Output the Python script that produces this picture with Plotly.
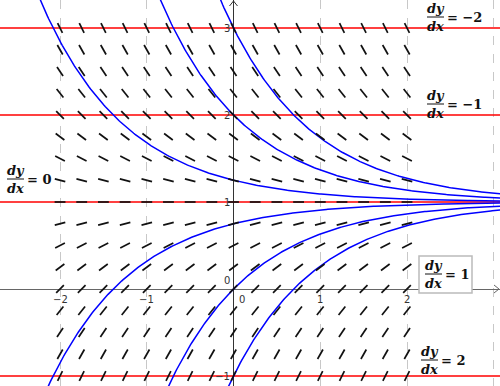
import numpy as np
import plotly.graph_objects as go

# ---- data ----
grid_x = [-2, -1.75, -1.5, -1.25, -1, -0.75, -0.5, -0.25, 0, 0.25, 0.5, 0.75, 1, 1.25, 1.5, 1.75, 2]
grid_y = [-1, -0.75, -0.5, -0.25, 0, 0.25, 0.5, 0.75, 1, 1.25, 1.5, 1.75, 2, 2.25, 2.5, 2.75, 3]
curve_C = [2, 1, 0.25, -0.25, -1, -2]          # y = 1 + C e^{-x}
iso_y = [3, 2, 1, 0, -1]                         # isoclines, slope = 1 - y
iso_drawn = [3, 2, 1, -1]                        # red lines shown
x_ticks = [-2, -1, 1, 2]
y_ticks = [3, 2, 1, -1]

W, H = 500, 386
XR = [-2.692, 3.072]
YR = [-1.115, 3.322]

def slope(y):
    return 1 - y

fig = go.Figure()

# red isoclines
for yv in iso_drawn:
    fig.add_trace(go.Scatter(x=[XR[0] - 1, XR[1] + 1], y=[yv, yv], mode="lines",
                             line=dict(color="#ff0000", width=1.3), hoverinfo="skip", showlegend=False))

# blue solution curves
xs = np.linspace(-3, 3.2, 400)
for C in curve_C:
    fig.add_trace(go.Scatter(x=xs, y=1 + C * np.exp(-xs), mode="lines",
                             line=dict(color="#0000ff", width=1.5), hoverinfo="skip", showlegend=False))

# slope field segments (fixed length)
half = 0.0625
sx, sy = [], []
for yv in grid_y:
    m = slope(yv)
    d = np.hypot(1, m)
    dx, dy = half / d, half * m / d
    for xv in grid_x:
        sx += [xv - dx, xv + dx, None]
        sy += [yv - dy, yv + dy, None]
fig.add_trace(go.Scatter(x=sx, y=sy, mode="lines", line=dict(color="#111111", width=1.7),
                         hoverinfo="skip", showlegend=False))

def px2paper(px, py):
    return px / W, 1 - py / H

shapes = []
annotations = []

# box around dy/dx = 1
bx0, by0 = px2paper(419, 256)
bx1, by1 = px2paper(472, 293)
shapes.append(dict(type="rect", xref="paper", yref="paper", x0=bx0, y0=by1, x1=bx1, y1=by0,
                   line=dict(color="#bbbbbb", width=1.5), fillcolor="white", layer="above"))

# fraction labels: (bar left px, bar y px, slope value)
label_pos = {-2: (427, 17), -1: (427, 104), 0: (7, 179), 1: (425, 274), 2: (421, 360)}
ffont = dict(family="DejaVu Serif", size=13, color="#111")
for yv in iso_y:
    s = slope(yv)
    bl, byp = label_pos[s]
    bw = 17
    x0, yb = px2paper(bl, byp)
    x1, _ = px2paper(bl + bw, byp)
    shapes.append(dict(type="line", xref="paper", yref="paper", x0=x0, x1=x1, y0=yb, y1=yb,
                       line=dict(color="#111", width=1), layer="above"))
    xc, _ = px2paper(bl + bw / 2, byp)
    annotations.append(dict(xref="paper", yref="paper", x=xc, y=yb, text="<b><i>dy</i></b>",
                            showarrow=False, xanchor="center", yanchor="bottom", font=ffont,
                            borderpad=0, yshift=0))
    annotations.append(dict(xref="paper", yref="paper", x=xc, y=yb, text="<b><i>dx</i></b>",
                            showarrow=False, xanchor="center", yanchor="top", font=ffont,
                            borderpad=0, yshift=-1))
    sign = "\u2212" if s < 0 else ""
    xe, _ = px2paper(bl + bw + 1, byp)
    annotations.append(dict(xref="paper", yref="paper", x=xe, y=yb, text="<b>= " + sign + str(abs(s)) + "</b>",
                            showarrow=False, xanchor="left", yanchor="middle", font=ffont))

# tick labels
tfont = dict(family="DejaVu Sans", size=10, color="#333")
for t in x_ticks:
    lab = ("\u2212" + str(abs(t))) if t < 0 else str(t)
    annotations.append(dict(x=t, y=0, text=lab, showarrow=False, xanchor="center", yanchor="top",
                            yshift=-3, font=tfont))
for t in y_ticks:
    lab = ("\u2212" + str(abs(t))) if t < 0 else str(t)
    annotations.append(dict(x=0, y=t, text=lab, showarrow=False, xanchor="right", yanchor="middle",
                            xshift=-2, font=tfont))
annotations.append(dict(x=0, y=0, text="0", showarrow=False, xanchor="right", yanchor="bottom",
                        xshift=-2, yshift=1, font=tfont))
annotations.append(dict(x=0, y=0, text="0", showarrow=False, xanchor="left", yanchor="top",
                        xshift=3, yshift=-3, font=tfont))

# axis arrows (chevrons)
ax0, _ = px2paper(233.5, 0)
shapes.append(dict(type="path", xref="paper", yref="paper",
                   path="M {} {} L {} {} L {} {}".format((233.5 - 4) / W, 1 - 6 / H, ax0, 1 - 1 / H,
                                                          (233.5 + 4) / W, 1 - 6 / H),
                   line=dict(color="#333", width=1)))
shapes.append(dict(type="path", xref="paper", yref="paper",
                   path="M {} {} L {} {} L {} {}".format(494 / W, 1 - 285 / H, 499 / W, 1 - 289 / H,
                                                          494 / W, 1 - 293 / H),
                   line=dict(color="#666", width=1)))

fig.update_layout(
    width=W, height=H, margin=dict(l=0, r=0, t=0, b=0),
    plot_bgcolor="white", paper_bgcolor="white",
    shapes=shapes, annotations=annotations, showlegend=False,
    xaxis=dict(range=XR, showgrid=True, gridcolor="#c8c8c8", griddash="dash", gridwidth=1,
               dtick=1, tick0=0, showticklabels=False, ticks="", zeroline=True,
               zerolinecolor="#333", zerolinewidth=1.2, showline=False, fixedrange=True),
    yaxis=dict(range=YR, showgrid=False, showticklabels=False, ticks="", zeroline=True,
               zerolinecolor="#666", zerolinewidth=1.2, showline=False, fixedrange=True),
)

fig.write_html("out.html")
